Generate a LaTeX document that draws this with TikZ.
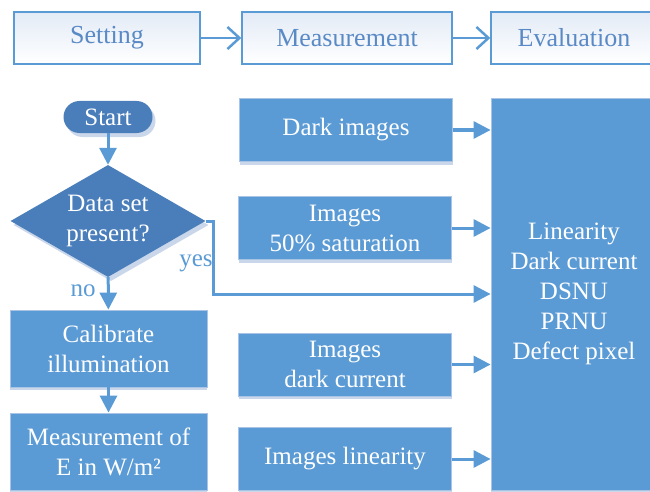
\documentclass[tikz,border=0pt]{standalone}
\usepackage{fontspec}
\setmainfont{Liberation Serif}
\usetikzlibrary{arrows.meta,shapes.geometric,shadows}
\definecolor{boxblue}{HTML}{5B9BD5}
\definecolor{darkblue}{HTML}{4A7EBB}
\definecolor{linkblue}{HTML}{5B9BD5}
\definecolor{headtext}{HTML}{5A8AC6}
\definecolor{headtop}{HTML}{E3EBF6}
\definecolor{boxline}{HTML}{A9C4E4}
\definecolor{shadowgray}{HTML}{CAD7EA}

\begin{document}
\begin{tikzpicture}[x=1pt,y=-1pt,
  font=\fontsize{25}{30}\selectfont,
  head/.style={draw=linkblue,line width=1.4pt,top color=headtop,bottom color=white,text=headtext,minimum height=52pt,inner sep=0pt,
    font=\fontsize{26}{30}\selectfont},
  mbox/.style={fill=boxblue,draw=boxline,line width=0.8pt,text=white,align=center,minimum height=63pt,inner sep=0pt,
    drop shadow={shadow xshift=0pt,shadow yshift=-3pt,fill=shadowgray,opacity=1}},
  flowbox/.style={mbox,minimum width=197pt,minimum height=77pt},
  decide/.style={diamond,fill=darkblue,text=white,align=center,inner sep=0pt,aspect=1.7,minimum width=195pt,minimum height=112pt,
    drop shadow={shadow xshift=3pt,shadow yshift=-4pt,fill=shadowgray,opacity=1}},
  startnode/.style={rectangle,rounded corners=16pt,fill=darkblue,text=white,minimum width=89pt,minimum height=32pt,inner sep=0pt,
    drop shadow={shadow xshift=3pt,shadow yshift=-4pt,fill=shadowgray,opacity=1}},
  link/.style={draw=linkblue,line width=3pt,-{Triangle[length=17pt,width=17pt]}},
  headlink/.style={draw=linkblue,line width=2.5pt,-{Straight Barb[length=12pt,width=22pt]}},
  tag/.style={text=linkblue,inner sep=0pt}]
    \useasboundingbox (0,0) rectangle (650,492);

    \node[head,minimum width=186pt] (setting) at (107,38) {Setting};
    \node[head,minimum width=210pt] (measure) at (347,38) {Measurement};
    \node[head,minimum width=166pt] (evaluate) at (574,38) {Evaluation};
    \draw[headlink] (setting) -- (measure);
    \draw[headlink] (measure) -- (evaluate);

    \node[startnode] (start) at (108,117) {Start};
    \node[decide] (dataset) at (108,221) {Data set\\present?};
    \node[flowbox] (calib) at (108.5,348.5) {Calibrate\\illumination};
    \node[flowbox] (irrad) at (108.5,451.5) {Measurement of\\E in W/m²};
    \draw[link] (start) -- (dataset);
    \draw[link] (dataset) -- (calib);
    \draw[link] (calib) -- (irrad);
    \node[tag] (yes) at (196,263) {yes};
    \node[tag] (no) at (83,291) {no};

    \node[mbox,minimum width=213pt] (dark) at (346,130) {Dark images};
    \node[mbox,minimum width=213pt] (sat) at (345,228) {Images\\50\% saturation};
    \node[mbox,minimum width=213pt] (darkcur) at (345,364.5) {Images\\dark current};
    \node[mbox,minimum width=213pt] (lin) at (345,459) {Images linearity};
    \node[mbox,minimum width=166pt,minimum height=392pt] (result) at (574,294) {Linearity\\Dark current\\DSNU\\PRNU\\Defect pixel};

    \draw[link] (dark.east) -- (dark.east -| result.west);
    \draw[link] (sat.east) -- (sat.east -| result.west);
    \draw[link] (darkcur.east) -- (darkcur.east -| result.west);
    \draw[link] (lin.east) -- (lin.east -| result.west);
    \draw[link] (dataset.east) -- ++(8,0) |- (result.west);
\end{tikzpicture}
\end{document}
